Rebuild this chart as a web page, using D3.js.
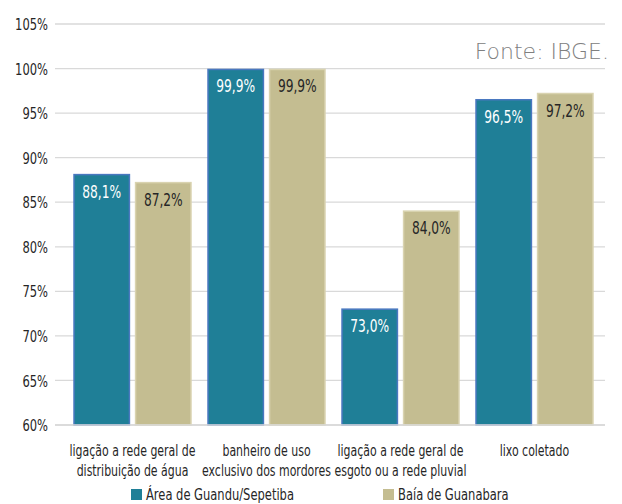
<!DOCTYPE html>
<html><head><meta charset="utf-8">
<script src="https://cdn.jsdelivr.net/npm/d3@7"></script>
<style>
body{margin:0;background:#fff;}
text{font-family:"DejaVu Sans Condensed","DejaVu Sans",sans-serif;font-stretch:condensed;}
</style></head>
<body><svg id="c" width="622" height="504"></svg>
<script>
const categories = [
  ["ligação a rede geral de","distribuição de água"],
  ["banheiro de uso","exclusivo dos mordores"],
  ["ligação a rede geral de","esgoto ou a rede pluvial"],
  ["lixo coletado"]
];
const seriesNames = ["Área de Guandu/Sepetiba","Baía de Guanabara"];
const guandu = [88.1, 99.9, 73.0, 96.5];
const guanabara = [87.2, 99.9, 84.0, 97.2];
const yTicks = [60,65,70,75,80,85,90,95,100,105];
const colors = ["#1F7F97","#C4BD91"];
const strokes = ["#4A78C0","#D9D3B0"];

const svg = d3.select("#c");
const gl = 55, gr = 605;
const SX = 0.8;
const x0 = d3.scaleBand().domain(d3.range(categories.length)).range([65.5, 601.5]).paddingInner(0.127).paddingOuter(0.0635);
const x1 = d3.scaleBand().domain([0,1]).range([0, x0.bandwidth()]).paddingInner(0.1);
const y = d3.scaleLinear().domain([60,105]).range([425, 24]);

// grid
svg.append("g").selectAll("line").data(yTicks).join("line")
  .attr("x1", gl).attr("x2", gr)
  .attr("y1", d=>y(d)).attr("y2", d=>y(d))
  .attr("stroke", "#d9d9d9").attr("stroke-width", 1.3);

// y axis labels
const ya = svg.append("g").attr("transform", `translate(${gl-7},0)`)
  .call(d3.axisLeft(y).tickValues(yTicks).tickSize(0).tickPadding(0).tickFormat(d=>d+"%"));
ya.select(".domain").remove();
ya.selectAll(".tick text").attr("font-size", 16).attr("fill", "#262626")
  .attr("x", null).attr("dy", "0.35em")
  .attr("transform", `scale(${SX},1)`)
  .style("font-family", '"DejaVu Sans Condensed","DejaVu Sans",sans-serif').style("font-stretch","condensed");

const data = categories.map((c,i)=>[guandu[i], guanabara[i]]);
const g = svg.append("g").selectAll("g").data(data).join("g")
  .attr("transform", (d,i)=>`translate(${x0(i)},0)`);
g.selectAll("rect").data(d=>d).join("rect")
  .attr("x", (d,j)=>x1(j)).attr("width", x1.bandwidth())
  .attr("y", d=>y(d)).attr("height", d=>y(60)-y(d))
  .attr("fill", (d,j)=>colors[j]).attr("stroke", (d,j)=>strokes[j]).attr("stroke-width", 1.5);
g.selectAll("text").data(d=>d).join("text")
  .attr("transform", (d,j)=>`translate(${x1(j)+x1.bandwidth()/2},${y(d)+23}) scale(${SX},1)`)
  .attr("text-anchor","middle").attr("font-size", 17)
  .attr("fill", (d,j)=> j===0 ? "#ffffff" : "#262626")
  .text(d=>d.toFixed(1).replace(".",",")+"%");

// baseline axis
svg.append("line").attr("x1", gl).attr("x2", gr).attr("y1", y(60)).attr("y2", y(60))
  .attr("stroke","#d9d9d9").attr("stroke-width",1.5);

// category labels
const xa = svg.append("g");
categories.forEach((c,i)=>{
  const cx = x0(i)+x0.bandwidth()/2;
  c.forEach((line,k)=>xa.append("text")
    .attr("transform", `translate(${cx},${456+k*20}) scale(0.76,1)`)
    .attr("text-anchor","middle").attr("font-size",16).attr("fill","#262626").text(line));
});

// legend
const lg = svg.append("g");
const lx = [131, 383];
seriesNames.forEach((s,i)=>{
  lg.append("rect").attr("x", lx[i]).attr("y", 489).attr("width", 11).attr("height", 11).attr("fill", colors[i]);
  lg.append("text").attr("transform", `translate(${lx[i]+15},500) scale(${SX},1)`)
    .attr("font-size",16).attr("fill","#262626").text(s);
});

// source
svg.append("text").attr("x", 609).attr("y", 59).attr("text-anchor","end")
  .style("font-stretch","normal").style("font-family","'DejaVu Sans',sans-serif")
  .attr("font-weight", 200)
  .attr("font-size", 22).attr("fill","#808080").text("Fonte: IBGE.");
</script></body></html>
